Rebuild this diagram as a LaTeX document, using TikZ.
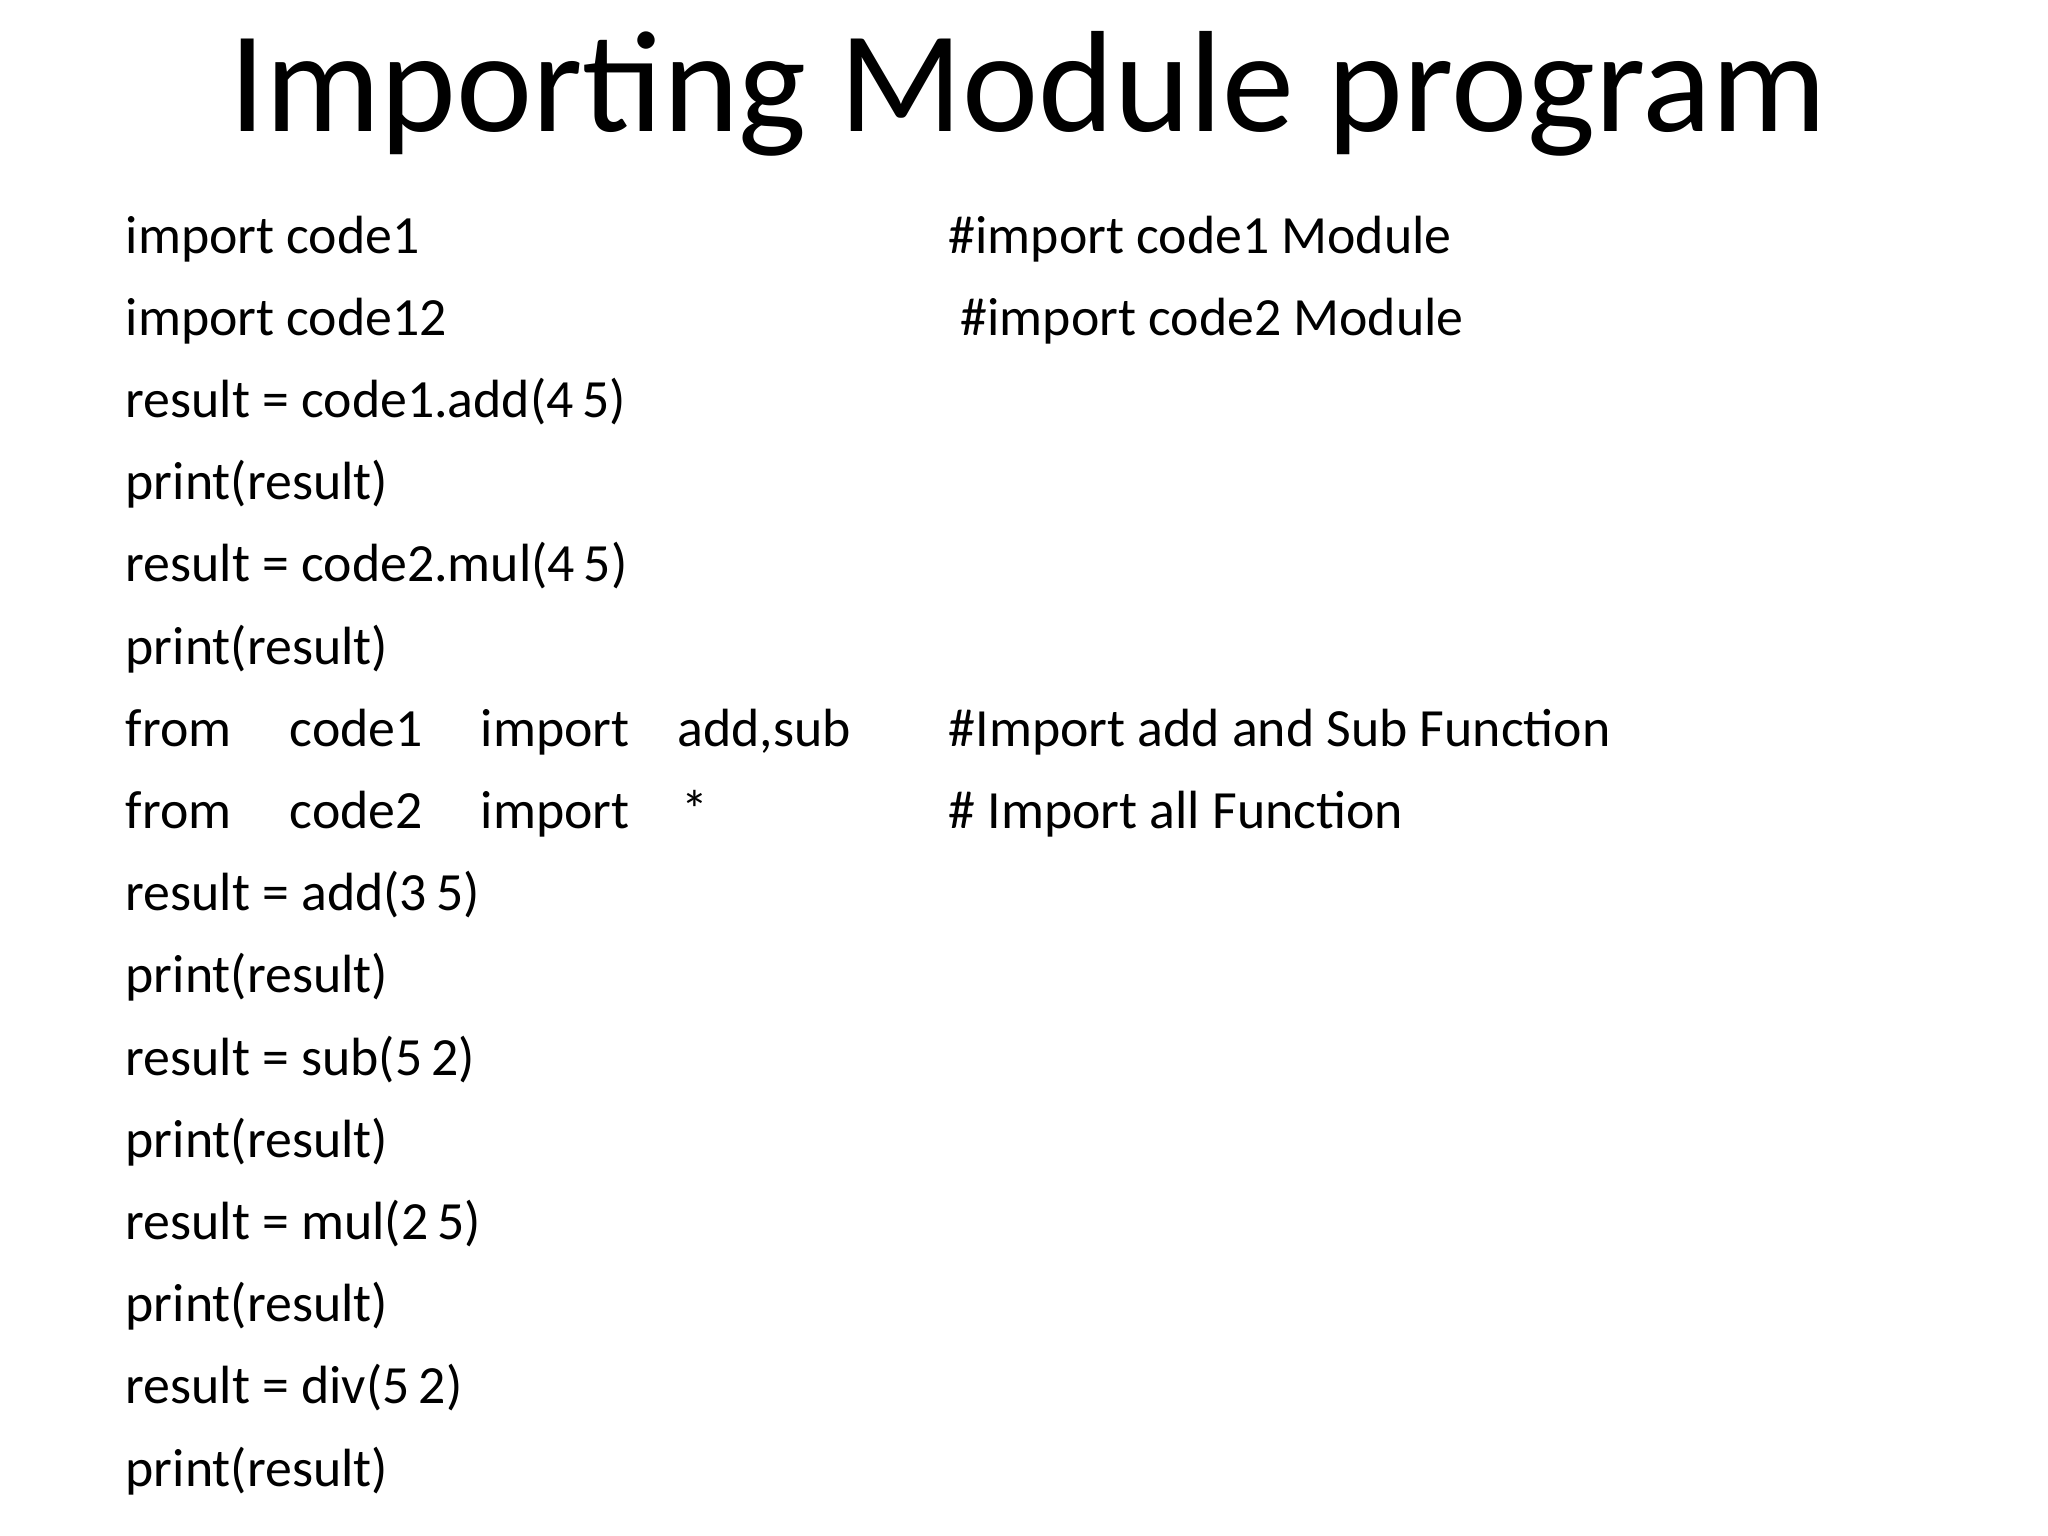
\documentclass[tikz,border=0pt]{standalone}
\usepackage{fontspec}
\setmainfont{Carlito}
\begin{document}
\begin{tikzpicture}[x=0.01cm,y=-0.01cm,
  code/.style={anchor=base west,inner sep=0pt,font=\fontsize{15.3pt}{18pt}\selectfont},
  ttl/.style={anchor=base,inner sep=0pt,font=\fontsize{41pt}{48pt}\selectfont}]
\useasboundingbox (0,0) rectangle (2048,1536);
\node[ttl] (title) at (1028,131) {Importing Module program};
\foreach \t [count=\i] in {import code1,import code12,result = code1.add(4\,5),print(result),result = code2.mul(4\,5),print(result),from,from,result = add(3\,5),print(result),result = sub(5\,2),print(result),result = mul(2\,5),print(result),result = div(5\,2),print(result)}
  \node[code] (l\i) at (125,{253+82.2*(\i-1)}) {\t};
\node[code] (f1a) at (289,{253+82.2*6}) {code1};
\node[code] (f1b) at (480,{253+82.2*6}) {import};
\node[code] (f1c) at (677,{253+82.2*6}) {add,sub};
\node[code] (f2a) at (289,{253+82.2*7}) {code2};
\node[code] (f2b) at (480,{253+82.2*7}) {import};
\node[code] (f2c) at (681,{253+82.2*7}) {*};
\node[code] (c1) at (948,253) {\#import code1 Module};
\node[code] (c2) at (960,{253+82.2}) {\#import code2 Module};
\node[code] (c3) at (948,{253+82.2*6}) {\#Import add and Sub Function};
\node[code] (c4) at (948,{253+82.2*7}) {\# Import all Function};
\end{tikzpicture}
\end{document}
